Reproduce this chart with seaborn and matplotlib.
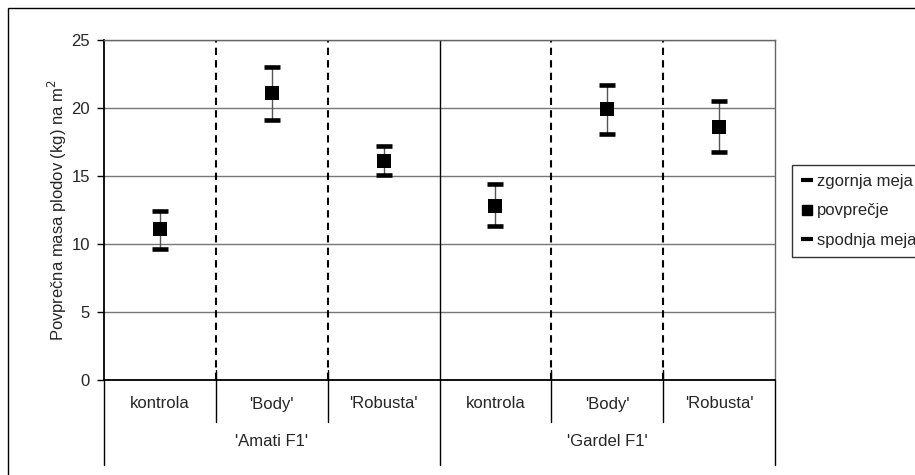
import matplotlib
matplotlib.use("Agg")
import matplotlib.pyplot as plt
import matplotlib.transforms as mtransforms
from matplotlib.patches import Rectangle
from matplotlib.lines import Line2D
import seaborn as sns
import pandas as pd
import numpy as np

# ---- data ----
treatments = ["kontrola", "'Body'", "'Robusta'", "kontrola", "'Body'", "'Robusta'"]
cultivars = ["'Amati F1'", "'Gardel F1'"]
upper = [12.4, 23.0, 17.2, 14.4, 21.7, 20.5]
mean = [11.1, 21.1, 16.1, 12.8, 19.9, 18.6]
lower = [9.6, 19.1, 15.1, 11.3, 18.1, 16.8]
yticks = [0, 5, 10, 15, 20, 25]
ylabel = "Povprečna masa plodov (kg) na m$^{2}$"
legend_labels = ["zgornja meja", "povprečje", "spodnja meja"]

sns.set_style("white")
plt.rcParams["font.family"] = ["Liberation Sans", "DejaVu Sans"]
FS = 12

W, H = 915, 475
fig = plt.figure(figsize=(W / 100, H / 100), dpi=100)
ax = fig.add_axes([104 / W, 95 / H, (775 - 104) / W, 340 / H])

pos = np.arange(len(treatments))
df = pd.DataFrame({"pos": pos, "upper": upper, "mean": mean, "lower": lower})

# high-low lines
ax.vlines(df["pos"], df["lower"], df["upper"], color="#555555", lw=1.0, zorder=3)
# caps
sns.scatterplot(data=df, x="pos", y="upper", marker="_", s=135, linewidth=3.3,
                color="black", ax=ax, zorder=4, legend=False)
sns.scatterplot(data=df, x="pos", y="lower", marker="_", s=135, linewidth=3.3,
                color="black", ax=ax, zorder=4, legend=False)
# mean
sns.scatterplot(data=df, x="pos", y="mean", marker="s", s=105, linewidth=0,
                color="black", ax=ax, zorder=5, legend=False)

ax.set_xlim(-0.5, len(treatments) - 0.5)
ax.set_ylim(0, 25)
ax.set_yticks(yticks)
ax.yaxis.grid(True, color="#777777", lw=1.0)
ax.set_axisbelow(True)
ax.set_xticks([])
ax.set_xlabel("")
ax.set_ylabel(ylabel, fontsize=FS, labelpad=2)
ax.tick_params(axis="y", labelsize=FS, length=5, width=1, color="black",
               left=True, direction="out", pad=5)

for s in ["left", "bottom"]:
    ax.spines[s].set_color("black")
    ax.spines[s].set_linewidth(1.3)
for s in ["top", "right"]:
    ax.spines[s].set_visible(True)
    ax.spines[s].set_color("#666666")
    ax.spines[s].set_linewidth(1.0)

# vertical separators inside plot
for b in [0.5, 1.5, 3.5, 4.5]:
    ax.axvline(b, color="black", lw=1.5, ls=(0, (3.5, 2.5)), zorder=2)
ax.axvline(2.5, color="black", lw=1.0, zorder=2)

# hierarchical category axis below
trans = mtransforms.blended_transform_factory(ax.transData, ax.transAxes)
row1_end = -(422 - 380) / 340
row2_end = -(465 - 380) / 340
for b in np.arange(-0.5, len(treatments), 1.0):
    is_group = b in (-0.5, 2.5, 5.5)
    y_end = row2_end if is_group else row1_end
    ax.plot([b, b], [0.03 if not is_group else 0, y_end], color="black", lw=1.0,
            transform=trans, clip_on=False)
for p, t in zip(pos, treatments):
    ax.text(p, -(404 - 380) / 340, t, transform=trans, ha="center", va="center",
            fontsize=FS)
for g, c in enumerate(cultivars):
    ax.text(g * 3 + 1, -(442 - 380) / 340, c, transform=trans, ha="center",
            va="center", fontsize=FS)

# outer frame
fig.patches.append(Rectangle((8 / W, -0.05), 1.05, 1 - 8 / H + 0.05,
                             transform=fig.transFigure, fill=False,
                             edgecolor="black", lw=1.0))

# legend
handles = [
    Line2D([], [], marker="_", ls="none", color="black", markersize=9, markeredgewidth=3.0),
    Line2D([], [], marker="s", ls="none", color="black", markersize=7),
    Line2D([], [], marker="_", ls="none", color="black", markersize=9, markeredgewidth=3.0),
]
leg = fig.legend(handles, legend_labels, loc="upper left",
                 bbox_to_anchor=(792 / W, 1 - 165 / H), frameon=True,
                 fancybox=False, edgecolor="black", fontsize=FS,
                 handlelength=0.7, handletextpad=0.25, borderpad=0.55,
                 labelspacing=0.85, borderaxespad=0)
leg.get_frame().set_linewidth(1.0)

fig.savefig("out.png", dpi=100)
